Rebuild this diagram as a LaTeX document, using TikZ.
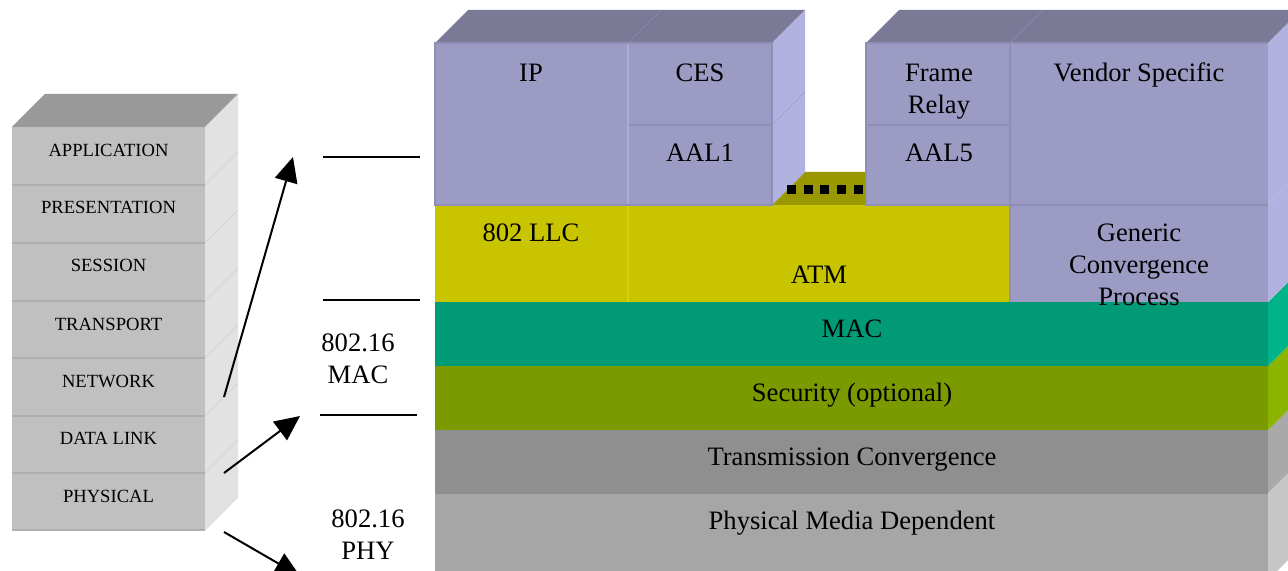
\documentclass[tikz,border=0pt]{standalone}
\usepackage{fontspec}
\setmainfont{Liberation Serif}
\usetikzlibrary{arrows.meta}

% OSI reference stack
\definecolor{osifront}{HTML}{C0C0C0}
\definecolor{ositop}{HTML}{999999}
\definecolor{osiside}{HTML}{E2E2E2}
\definecolor{osiline}{HTML}{AFAFAF}
\definecolor{osiedge}{HTML}{D0D0D0}
% 802.16 stack
\definecolor{lavfront}{HTML}{9B9BC3}
\definecolor{lavtop}{HTML}{7A7A96}
\definecolor{lavside}{HTML}{B2B2E0}
\definecolor{lavline}{HTML}{8E8EB6}
\definecolor{lavlight}{HTML}{ACACD6}
\definecolor{atmfront}{HTML}{C8C400}
\definecolor{atmtop}{HTML}{9A9800}
\definecolor{atmline}{HTML}{D6D200}
\definecolor{macfront}{HTML}{009A75}
\definecolor{macside}{HTML}{00B388}
\definecolor{secfront}{HTML}{7A9A00}
\definecolor{secside}{HTML}{8AB400}
\definecolor{tcfront}{HTML}{8F8F8F}
\definecolor{tcside}{HTML}{A9A9A9}
\definecolor{pmdfront}{HTML}{A6A6A6}
\definecolor{pmdside}{HTML}{C6C6C6}

\begin{document}
\begin{tikzpicture}[x=0.5pt,y=-0.5pt,
  big/.style={font=\fontsize{13.3}{16}\selectfont, inner sep=0pt, anchor=base, align=center},
  small/.style={font=\fontsize{9.3}{11}\selectfont, inner sep=0pt, anchor=base},
  link/.style={line width=1pt, -{Triangle[length=12.5pt,width=11.5pt]}},
  rulebar/.style={line width=1pt},
  cell/.style={line width=0.6pt}]
\useasboundingbox (0,0) rectangle (1288,571);
\clip (0,0) rectangle (1288,571);

% ---------------- OSI stack ----------------
\fill[ositop]  (12,127) -- (45,94) -- (238,94) -- (205,127) -- cycle;
\fill[osiside] (205,127) -- (238,94) -- (238,497) -- (205,530) -- cycle;
\fill[osifront] (12,127) rectangle (205,530);
\foreach \y in {185,243,301,358,416,473,530} {
  \draw[osiline, line width=1pt] (12,\y) -- (205,\y);
  \draw[osiedge, line width=0.3pt] (205,\y) -- (238,\y-33);
}
\node[small] (osi7) at (108.5,157) {APPLICATION};
\node[small] (osi6) at (108.5,214) {PRESENTATION};
\node[small] (osi5) at (108.5,272) {SESSION};
\node[small] (osi4) at (108.5,330) {TRANSPORT};
\node[small] (osi3) at (108.5,387) {NETWORK};
\node[small] (osi2) at (108.5,444) {DATA LINK};
\node[small] (osi1) at (108.5,502) {PHYSICAL};

% ---------------- 802.16 stack: lower layers ----------------
% PMD
\fill[pmdside] (1268,493) -- (1301,460) -- (1301,547) -- (1268,580) -- cycle;
\fill[pmdfront] (435,493) rectangle (1268,580);
\draw[pmdfront!86!black, cell] (435,493) -- (1268,493);
% TC
\fill[tcside] (1268,430) -- (1301,397) -- (1301,460) -- (1268,493) -- cycle;
\fill[tcfront] (435,430) rectangle (1268,493);
% Security
\fill[secside] (1268,366) -- (1301,333) -- (1301,397) -- (1268,430) -- cycle;
\fill[secfront] (435,366) rectangle (1268,430);
% MAC
\fill[macside] (1268,302) -- (1301,269) -- (1301,333) -- (1268,366) -- cycle;
\fill[macfront] (435,302) rectangle (1268,366);

% convergence layer
\fill[atmtop] (628,205) -- (661,172) -- (1043,172) -- (1010,205) -- cycle;
\fill[lavside] (1268,205) -- (1301,172) -- (1301,269) -- (1268,302) -- cycle;
\fill[atmfront] (435,205) rectangle (1010,302);
\draw[atmline, line width=0.8pt] (628,205) -- (628,302);
\fill[lavfront] (1010,205) rectangle (1268,302);
\draw[lavline, cell] (1010,205) -- (1010,302);

% service blocks, left
\fill[lavtop] (435,43) -- (468,10) -- (805,10) -- (772,43) -- cycle;
\draw[lavline, line width=0.3pt] (628,43) -- (661,10);
\fill[lavside] (772,43) -- (805,10) -- (805,172) -- (772,205) -- cycle;
\draw[lavfront, line width=0.3pt] (772,125) -- (805,92);
\filldraw[fill=lavfront, draw=lavline, cell] (435,43) rectangle (628,205);
\filldraw[fill=lavfront, draw=lavline, cell] (628,43) rectangle (772,125);
\filldraw[fill=lavfront, draw=lavline, cell] (628,125) rectangle (772,205);
\draw[lavlight, line width=0.8pt] (628,44) -- (628,204);

% service blocks, right
\fill[lavtop] (866,43) -- (899,10) -- (1301,10) -- (1268,43) -- cycle;
\draw[lavline, line width=0.3pt] (1010,43) -- (1043,10);
\fill[lavside] (1268,43) -- (1301,10) -- (1301,172) -- (1268,205) -- cycle;
\filldraw[fill=lavfront, draw=lavline, cell] (866,43) rectangle (1010,125);
\filldraw[fill=lavfront, draw=lavline, cell] (866,125) rectangle (1010,205);
\fill[lavfront] (1010,43) rectangle (1268,205);
\draw[lavline, cell] (1010,205) -- (1010,43) -- (1268,43);
\draw[lavline, cell] (1010,205) -- (1268,205);

% dotted link between the two ATM adaptation blocks
\coordinate (aal1edge) at (787,189.5);
\coordinate (aal5edge) at (863,189.5);
\draw[line width=4.5pt, dash pattern=on 4.5pt off 3.85pt] (aal1edge) -- (aal5edge);

% labels
\node[big] (ip)     at (531,82)  {IP};
\node[big] (ces)    at (700,82)  {CES};
\node[big] (aal1)   at (700,162) {AAL1};
\node[big] (fr)     at (939,114) {Frame\\Relay};
\node[big] (aal5)   at (939,162) {AAL5};
\node[big] (vendor) at (1139,82) {Vendor Specific};
\node[big] (llc)    at (531,242) {802 LLC};
\node[big] (atm)    at (819,284) {ATM};
\node[big] (gcp)    at (1139,306) {Generic\\Convergence\\Process};
\node[big] (mac)    at (852,337) {MAC};
\node[big] (sec)    at (852,401) {Security (optional)};
\node[big] (tc)     at (852,465) {Transmission Convergence};
\node[big] (pmd)    at (852,529) {Physical Media Dependent};

% 802.16 scope markers
\coordinate (macTopL) at (323,157); \coordinate (macTopR) at (420,157);
\coordinate (macMidL) at (323,300); \coordinate (macMidR) at (420,300);
\coordinate (macBotL) at (320,415); \coordinate (macBotR) at (417,415);
\draw[rulebar] (macTopL) -- (macTopR);
\draw[rulebar] (macMidL) -- (macMidR);
\draw[rulebar] (macBotL) -- (macBotR);
\node[big] (maclabel) at (358,383) {802.16\\MAC};
\node[big] (phylabel) at (368,559) {802.16\\PHY};

% mapping arrows
\coordinate (netside)  at (224,397);
\coordinate (linkside) at (224,473);
\coordinate (physide)  at (224,532);
\coordinate (macTip)   at (293,157);
\coordinate (secTip)   at (300,416);
\coordinate (phyTip)   at (300,576);
\draw[link] (netside) -- (macTip);
\draw[link] (linkside) -- (secTip);
\draw[link] (physide) -- (phyTip);
\end{tikzpicture}
\end{document}
